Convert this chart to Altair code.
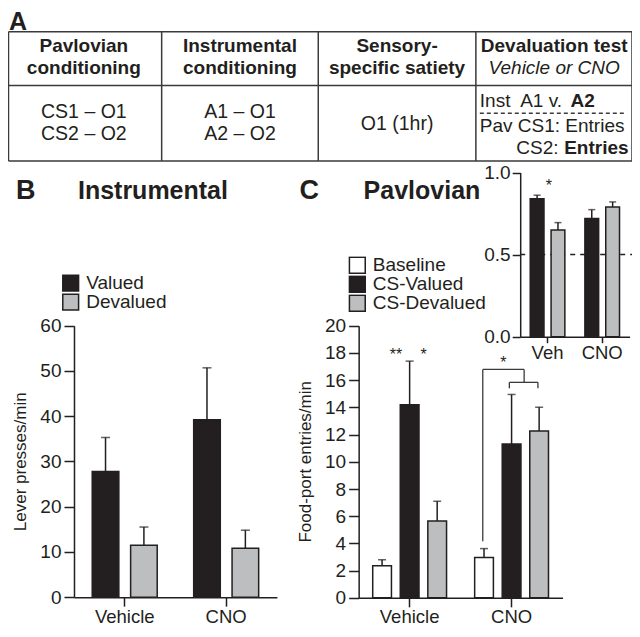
import altair as alt
import pandas as pd

# ------------------------------------------------------------------ data
groups = ["Vehicle", "CNO"]

instr_series = ["Valued", "Devalued"]
instr_vehicle_mean = [27.8, 11.5]
instr_vehicle_sem = [7.5, 4.0]
instr_cno_mean = [39.2, 10.8]
instr_cno_sem = [11.5, 4.0]

pav_series = ["Baseline", "CS-Valued", "CS-Devalued"]
pav_vehicle_mean = [2.35, 14.2, 5.65]
pav_vehicle_sem = [0.45, 3.2, 1.45]
pav_cno_mean = [2.97, 11.3, 12.26]
pav_cno_sem = [0.65, 3.65, 1.75]

inset_groups = ["Veh", "CNO"]
inset_series = ["CS-Valued", "CS-Devalued"]
inset_veh_mean = [0.84, 0.65]
inset_veh_sem = [0.022, 0.045]
inset_cno_mean = [0.72, 0.79]
inset_cno_sem = [0.054, 0.031]

instr_ticks = [0, 10, 20, 30, 40, 50, 60]
pav_ticks = [0, 2, 4, 6, 8, 10, 12, 14, 16, 18, 20]
inset_ticks = [0, 0.5, 1.0]

table_headers = [["Pavlovian", "conditioning"],
                 ["Instrumental", "conditioning"],
                 ["Sensory-", "specific satiety"]]
table_body = [["CS1 – O1", "CS2 – O2"],
              ["A1 – O1", "A2 – O2"],
              ["O1 (1hr)"]]

# ------------------------------------------------------------------ layout helpers
W, H = 624, 621
FONT = "Liberation Sans"
INK = "#231f20"
LINE = "#3a3a3c"
GRAY = "#bcbec0"
WHITE = "#ffffff"


def X(x):
    return (x - 4) * 0.985


def Y(y):
    return (y - 10) * 0.993


ONE = pd.DataFrame({"k": [0]})


def T(s, x, y, size=18, weight="normal", align="center", style="normal", angle=0):
    m = alt.Chart(pd.DataFrame({"t": [s]})).mark_text(
        font=FONT, fontSize=size, fontWeight=weight, fontStyle=style,
        align=align, baseline="alphabetic", color=INK, angle=angle)
    return m.encode(x=alt.value(X(x)), y=alt.value(Y(y)), text="t:N")


def L(x1, y1, x2, y2, width=1.5, dash=None, color=LINE):
    kw = dict(color=color, strokeWidth=width)
    if dash:
        kw["strokeDash"] = dash
    return alt.Chart(ONE).mark_rule(**kw).encode(
        x=alt.value(X(x1)), x2=alt.value(X(x2)),
        y=alt.value(Y(y1)), y2=alt.value(Y(y2)))


def frame(gs, series, means, sems):
    rows = []
    for g, ms, ss in zip(gs, means, sems):
        for s, m, e in zip(series, ms, ss):
            rows.append({"Group": g, "Series": s, "Mean": m, "SEM": e})
    return pd.DataFrame(rows)


def panel(df, gs, series, colors, xr, yr, ydom, yvals, yfmt, legend,
          tick_x, tick_y, lab_pad_y, pi, po, cap, extra=None, lab_size=19,
          xlab_size=18.5):
    base = alt.Chart(df).transform_calculate(Top="datum.Mean + datum.SEM")
    x = alt.X("Group:N", sort=gs,
              scale=alt.Scale(domain=gs, range=[X(xr[0]), X(xr[1])],
                              paddingInner=0, paddingOuter=0),
              axis=alt.Axis(orient="bottom", offset=-(H - Y(yr[0])), title=None,
                            labelAngle=0, tickSize=tick_x, labelPadding=1,
                            labelFontSize=xlab_size))
    xo = alt.XOffset("Series:N", sort=series,
                     scale=alt.Scale(domain=series, paddingInner=pi, paddingOuter=po))
    y = alt.Y("Mean:Q",
              scale=alt.Scale(domain=ydom, range=[Y(yr[0]), Y(yr[1])], nice=False),
              axis=alt.Axis(orient="left", offset=-X(xr[0]), title=None,
                            values=yvals, format=yfmt, tickSize=tick_y,
                            labelPadding=lab_pad_y, labelFontSize=lab_size))
    bars = base.mark_bar(stroke=INK, strokeWidth=1.5).encode(
        x=x, xOffset=xo, y=y,
        color=alt.Color("Series:N", sort=series,
                        scale=alt.Scale(domain=series, range=colors),
                        legend=legend))
    err = base.mark_rule(color=INK, strokeWidth=1.5).encode(
        x=x, xOffset=xo, y=alt.Y("Mean:Q", title=None), y2="Top:Q")
    caps = base.mark_tick(color=INK, thickness=1.5, size=cap).encode(
        x=x, xOffset=xo, y=alt.Y("Top:Q", title=None))
    parts = []
    if extra is not None:
        parts.append(extra)
    parts += [bars, err, caps]
    return alt.layer(*parts)


def make_legend(lx, ly):
    return alt.Legend(orient="none", legendX=X(lx), legendY=Y(ly), title=None,
                      direction="vertical", symbolType="square", symbolSize=250,
                      symbolStrokeColor=INK, symbolStrokeWidth=1.5, symbolOpacity=1,
                      labelFont=FONT, labelFontSize=19, labelColor=INK,
                      labelOffset=6, rowPadding=0, clipHeight=18, padding=0)


# ------------------------------------------------------------------ panel A (table)
items = []
items.append(T("A", 5, 32, size=25, weight="bold", align="left"))
TL, TR = 4.5, 637.5
for (x1, y1, x2, y2) in [(TL, 34, TR, 34), (TL, 164, TR, 164), (TL, 88, TR, 88),
                         (TL, 34, TL, 164), (TR, 34, TR, 164),
                         (160, 34, 160, 164), (319, 34, 319, 164), (479, 34, 479, 164)]:
    items.append(L(x1, y1, x2, y2))
col_centers = [81, 239.5, 399, 558.5]
for cx, lines in zip(col_centers, table_headers):
    for i, s in enumerate(lines):
        items.append(T(s, cx, 54 + 22 * i, size=19, weight="bold"))
items.append(T("Devaluation test", col_centers[3], 54, size=19, weight="bold"))
items.append(T("Vehicle or CNO", col_centers[3], 76, size=19, style="italic"))
for cx, lines in zip(col_centers, table_body):
    if len(lines) == 2:
        for i, s in enumerate(lines):
            items.append(T(s, cx, 121 + 22 * i, size=19.5))
    else:
        items.append(T(lines[0], cx, 133, size=19.5))
items.append(T("Inst", 483, 110, size=19, align="left"))
items.append(T("A1 v.", 524, 110, size=19, align="left"))
items.append(T("A2", 575, 110, size=19, align="left", weight="bold"))
items.append(L(483, 116, 632, 116, width=1.3, dash=[4, 3]))
items.append(T("Pav CS1: Entries", 483, 135, size=19, align="left"))
items.append(T("CS2:", 563, 157, size=19, align="right"))
items.append(T("Entries", 634, 157, size=19, align="right", weight="bold"))

# ------------------------------------------------------------------ panel B
items.append(T("B", 12, 202, size=27, weight="bold", align="left"))
items.append(T("Instrumental", 75, 202, size=25, weight="bold", align="left"))
items.append(T("Lever presses/min", 22, 467, size=17, angle=270))
df_b = frame(groups, instr_series, [instr_vehicle_mean, instr_cno_mean],
             [instr_vehicle_sem, instr_cno_sem])
items.append(panel(df_b, groups, instr_series, [INK, GRAY],
                   xr=(71, 277), yr=(603.3, 330), ydom=[0, 60], yvals=instr_ticks,
                   yfmt="d", legend=make_legend(58, 278), tick_x=9, tick_y=10,
                   lab_pad_y=3, pi=0.307, po=0.475, cap=9))

# ------------------------------------------------------------------ panel C
items.append(T("C", 300, 202, size=27, weight="bold", align="left"))
items.append(T("Pavlovian", 365, 202, size=25, weight="bold", align="left"))
items.append(T("Food-port entries/min", 312, 467, size=17, angle=270))
df_c = frame(groups, pav_series, [pav_vehicle_mean, pav_cno_mean],
             [pav_vehicle_sem, pav_cno_sem])
items.append(panel(df_c, groups, pav_series, [WHITE, INK, GRAY],
                   xr=(360, 567), yr=(604, 330), ydom=[0, 20], yvals=pav_ticks,
                   yfmt="d", legend=make_legend(349, 260), tick_x=9, tick_y=10,
                   lab_pad_y=3, pi=0.32, po=0.51, cap=8))
# significance marks
items.append(T("**", 398, 364, size=16))
items.append(T("*", 426, 364, size=16))
items.append(T("*", 507, 373, size=16))
for (x1, y1, x2, y2) in [(486, 547, 486, 374), (486, 374, 528, 374), (528, 374, 528, 387),
                         (513, 387, 542, 387), (513, 387, 513, 393), (542, 387, 542, 393)]:
    items.append(L(x1, y1, x2, y2, width=1.3))

# ------------------------------------------------------------------ inset
df_i = frame(inset_groups, inset_series, [inset_veh_mean, inset_cno_mean],
             [inset_veh_sem, inset_cno_sem])
chance = alt.Chart(ONE).mark_rule(color=INK, strokeWidth=1.5, strokeDash=[5, 5]).encode(
    y=alt.datum(0.5), x=alt.value(X(524)), x2=alt.value(W))
items.append(panel(df_i, inset_groups, inset_series, [INK, GRAY],
                   xr=(524, 635), yr=(341, 175.7), ydom=[0, 1], yvals=inset_ticks,
                   yfmt=".1f", legend=None, tick_x=6, tick_y=8,
                   lab_pad_y=2, pi=0.34, po=0.48, cap=7, extra=chance))
items.append(T("*", 553, 194, size=16))

chart = alt.layer(*items).resolve_scale(
    x="independent", y="independent", xOffset="independent", color="independent"
).properties(
    width=W, height=H, padding=0, autosize=alt.AutoSizeParams(type="none")
).configure_view(stroke=None).configure_axis(
    grid=False, domainColor=INK, domainWidth=1.5, tickColor=INK, tickWidth=1.5,
    labelColor=INK, labelFont=FONT
)

chart.save("out.html", embed_options={"renderer": "svg", "actions": False})
